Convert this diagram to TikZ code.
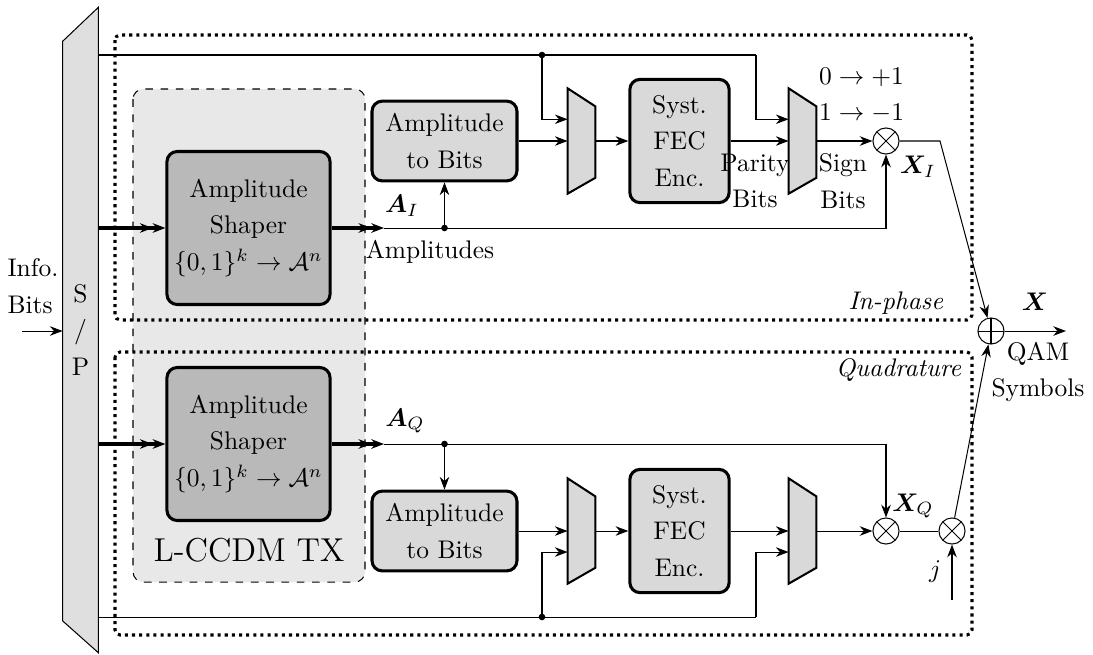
\documentclass[tikz,border=0pt]{standalone}
\usepackage{amsmath,amssymb,bm}
\usetikzlibrary{arrows.meta,backgrounds}
\linespread{1.2}
\tikzset{
  block/.style={draw,line width=1.2pt,rounded corners=4pt,fill=gray!30,align=center,inner sep=1pt},
  shaper/.style={block,fill=gray!55,minimum width=2.25cm,minimum height=2.11cm},
  atb/.style={block,minimum width=2cm,minimum height=1.1cm},
  fec/.style={block,minimum width=1.37cm,minimum height=1.7cm},
  muxnode/.style={minimum width=0.37cm,minimum height=1.44cm,inner sep=0pt},
  muxbody/.style={draw,thick,fill=gray!30},
  mult/.style={draw,circle,minimum size=0.36cm,inner sep=0pt,
    path picture={\draw (path picture bounding box.north west)--(path picture bounding box.south east)
      (path picture bounding box.north east)--(path picture bounding box.south west);}},
  adder/.style={draw,circle,minimum size=0.36cm,inner sep=0pt,
    path picture={\draw (path picture bounding box.north)--(path picture bounding box.south)
      (path picture bounding box.east)--(path picture bounding box.west);}},
  branch/.style={line width=1.2pt,dash pattern=on 1.2pt off 1.6pt,rounded corners=2pt},
  fat/.style={->>,line width=1.4pt},
}

\begin{document}
\begin{tikzpicture}[x=0.0138cm,y=-0.0138cm,>={Stealth[length=5pt]}]
\useasboundingbox (0,0) rectangle (1093,654);

\draw[dashed,fill=gray!18,rounded corners=4pt] (133,89) rectangle (365,582);
\node[font=\fontsize{13}{15}\selectfont] (lccdm) at (249,550) {L-CCDM TX};
\draw[branch] (115,35) rectangle (972,320);
\draw[branch] (115,352) rectangle (972,635);
\node[anchor=east,font=\itshape] (inph) at (952,303) {In-phase};
\node[anchor=east,font=\itshape] (quad) at (970,370) {Quadrature};

\node[minimum width=0.48cm,minimum height=8.89cm,inner sep=0pt,align=center] (sp) at (80.5,330) {S\\/\\P};
\begin{scope}[on background layer]
  \draw[fill=gray!25] (sp.north east) -- (sp.south east) -- ([yshift=0.44cm]sp.south west) -- ([yshift=-0.47cm]sp.north west) -- cycle;
\end{scope}
\node[align=left] (info) at (33,286) {Info.\\Bits};
\coordinate (inbits) at (22,331);
\draw[->] (inbits) -- (inbits -| sp.west);

\node[shaper] (shI) at (248.5,228) {Amplitude\\Shaper\\$\{0,1\}^k\rightarrow\mathcal{A}^n$};
\node[shaper] (shQ) at (248.5,444) {Amplitude\\Shaper\\$\{0,1\}^k\rightarrow\mathcal{A}^n$};
\coordinate (aI) at (384,228);
\coordinate (aQ) at (384,444);
\draw[fat] (sp.east |- shI) -- (shI);
\draw[fat] (sp.east |- shQ) -- (shQ);
\draw[fat] (shI) -- (aI);
\draw[fat] (shQ) -- (aQ);
\node (labAI) at (402,206) {$\bm{A}_I$};
\node (labamp) at (430,252) {Amplitudes};
\node (labAQ) at (405,421) {$\bm{A}_Q$};

\node[atb] (atbI) at (444.5,141) {Amplitude\\to Bits};
\node[atb] (atbQ) at (444.5,531) {Amplitude\\to Bits};
\coordinate (jAI) at (444.5,228);
\coordinate (jAQ) at (444.5,444);
\node[muxnode] (muxI1) at (581.5,141) {};
\node[muxnode] (muxQ1) at (581.5,531) {};
\node[fec] (fecI) at (679.5,141) {Syst.\\FEC\\Enc.};
\node[fec] (fecQ) at (679.5,531) {Syst.\\FEC\\Enc.};
\node[muxnode] (muxI2) at (802.5,141) {};
\node[muxnode] (muxQ2) at (802.5,531) {};
\foreach \m in {muxI1,muxQ1,muxI2,muxQ2}
  \draw[muxbody] (\m.north west) -- ([yshift=-0.25cm]\m.north east) -- ([yshift=0.22cm]\m.south east) -- (\m.south west) -- cycle;

\node[mult] (mulI) at (886,141) {};
\node[mult] (mulQ) at (886,531) {};
\node[mult] (mulJ) at (952,531) {};
\node[adder] (sum) at (991,331) {};

\coordinate (jtop) at (542,55);
\coordinate (ctop) at (756,55);
\coordinate (jbot) at (542,617);
\coordinate (cbot) at (756,617);
\draw (sp.east |- jtop) -- (jtop) -- (ctop);
\draw[->] (ctop) |- ([yshift=0.3cm]muxI2.west);
\draw[->] (jtop) |- ([yshift=0.3cm]muxI1.west);
\draw (sp.east |- jbot) -- (jbot) -- (cbot);
\draw[->] (cbot) |- ([yshift=-0.29cm]muxQ2.west);
\draw[->] (jbot) |- ([yshift=-0.29cm]muxQ1.west);

\draw (aI) -- (jAI);
\draw[->] (jAI) -- (atbI);
\draw[->] (jAI) -- (mulI |- jAI) -- (mulI);
\draw[->] (atbI) -- (muxI1);
\draw[->] (muxI1) -- (fecI);
\draw[->] (fecI) -- (muxI2);
\draw[->] (muxI2) -- (mulI);

\draw (aQ) -- (jAQ);
\draw[->] (jAQ) -- (atbQ);
\draw[->] (jAQ) -- (mulQ |- jAQ) -- (mulQ);
\draw[->] (atbQ) -- (muxQ1);
\draw[->] (muxQ1) -- (fecQ);
\draw[->] (fecQ) -- (muxQ2);
\draw[->] (muxQ2) -- (mulQ);

\foreach \p in {jtop,jbot,jAI,jAQ}
  \fill (\p) circle (1.3pt);

\coordinate (kI) at (940,141);
\coordinate (jin) at (952,600);
\coordinate (out) at (1066,331);
\draw[->] (mulI) -- (kI) -- (sum);
\draw (mulQ) -- (mulJ);
\draw[->] (jin) -- (mulJ);
\draw[->] (mulJ) -- (sum);
\draw[->] (sum) -- (out);

\node[align=center] (parI) at (755,181) {Parity\\Bits};
\node[align=center] (sgnI) at (843,181) {Sign\\Bits};
\node[anchor=west,inner sep=1pt] (map0) at (816,77) {$0\rightarrow+1$};
\node[anchor=west,inner sep=1pt] (map1) at (816,113) {$1\rightarrow-1$};
\node (labXI) at (918,167) {$\bm{X}_I$};
\node (labXQ) at (913,506) {$\bm{X}_Q$};
\node (labj) at (935,572) {$j$};
\node (labX) at (1035,302) {$\bm{X}$};
\node[align=center] (qam) at (1038,372) {QAM\\Symbols};
\end{tikzpicture}
\end{document}
